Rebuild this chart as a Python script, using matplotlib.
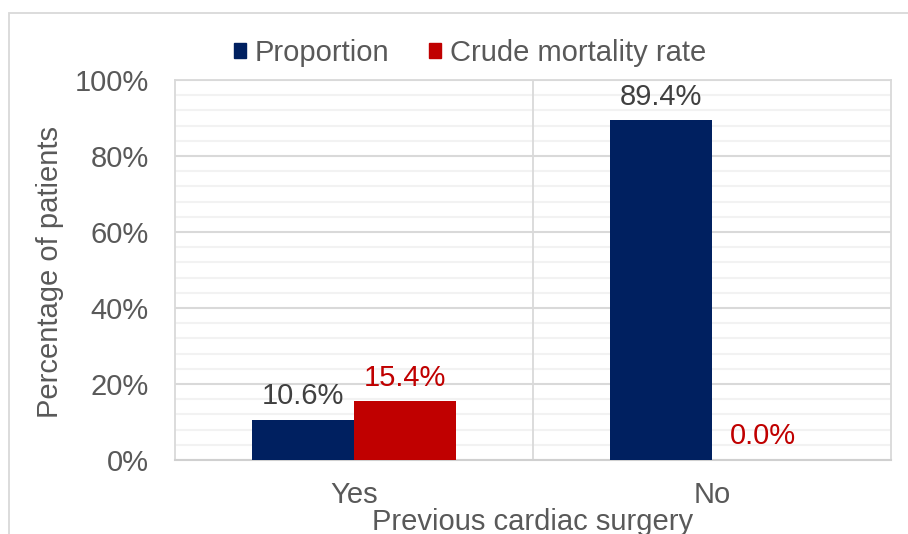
import numpy as np
import matplotlib
matplotlib.use('Agg')
import matplotlib.pyplot as plt
from matplotlib.patches import Rectangle
from matplotlib.ticker import MultipleLocator

# data
categories = ['Yes', 'No']
series_names = ['Proportion', 'Crude mortality rate']
proportion = [10.6, 89.4]
crude_mortality = [15.4, 0.0]
y_ticks = [0, 20, 40, 60, 80, 100]
y_tick_labels = ['0%', '20%', '40%', '60%', '80%', '100%']

navy = '#002060'
red = '#C00000'
grey_text = '#595959'
fs = 21

plt.rcParams['font.family'] = ['Liberation Sans', 'DejaVu Sans']

W, H = 908, 534
fig = plt.figure(figsize=(W / 100, H / 100), dpi=100)

# outer chart frame
fig.patches.append(Rectangle((9 / W, -0.1), 1.0, (H - 13) / H + 0.1, transform=fig.transFigure,
                             fill=False, edgecolor='#D9D9D9', lw=1.3))

# plot area in pixels: x 175..891, y 80..460
ax = fig.add_axes([175 / W, (H - 460) / H, (891 - 175) / W, 380 / H])

x = np.arange(len(categories))
bw = 0.286
b1 = ax.bar(x - bw / 2, proportion, bw, color=navy, label=series_names[0], zorder=3)
b2 = ax.bar(x + bw / 2, crude_mortality, bw, color=red, label=series_names[1], zorder=3)

ax.bar_label(b1, labels=['%.1f%%' % v for v in proportion], padding=7, fontsize=fs, color='#404040')
ax.bar_label(b2, labels=['%.1f%%' % v for v in crude_mortality], padding=7, fontsize=fs, color=red)

ax.set_xlim(-0.5, 1.5)
ax.set_ylim(0, 100)
ax.set_yticks(y_ticks)
ax.set_yticklabels(y_tick_labels)
ax.yaxis.set_minor_locator(MultipleLocator(4))
ax.set_xticks(x)
ax.set_xticklabels(categories)
ax.tick_params(axis='both', which='both', length=0, labelsize=fs, labelcolor=grey_text)
ax.tick_params(axis='y', pad=19)
ax.tick_params(axis='x', pad=15)

ax.grid(axis='y', which='major', color='#D9D9D9', lw=1.5, zorder=0)
ax.grid(axis='y', which='minor', color='#F2F2F2', lw=1.5, zorder=0)
ax.axvline(0.5, color='#D9D9D9', lw=1.3, zorder=1)
ax.set_axisbelow(True)

for side in ['left', 'right', 'top']:
    ax.spines[side].set_color('#D9D9D9')
    ax.spines[side].set_linewidth(1.3)
ax.spines['bottom'].set_color('#D0D0D0')
ax.spines['bottom'].set_linewidth(1.5)

fig.text(50 / W, 1 - 272 / H, 'Percentage of patients', rotation=90, ha='center', va='center',
         fontsize=fs, color=grey_text)
fig.text(533 / W, 1 - 522 / H, 'Previous cardiac surgery', ha='center', va='center',
         fontsize=fs, color=grey_text)

handles = [Rectangle((0, 0), 1, 1, color=navy), Rectangle((0, 0), 1, 1, color=red)]
leg = fig.legend(handles, series_names, loc='center', bbox_to_anchor=(470 / W, 1 - 53 / H), ncol=2,
                 frameon=False, fontsize=fs, handlelength=0.42, handleheight=0.42,
                 handletextpad=0.3, columnspacing=1.35, borderaxespad=0)
for t in leg.get_texts():
    t.set_color(grey_text)

fig.savefig('out.png', dpi=100)
